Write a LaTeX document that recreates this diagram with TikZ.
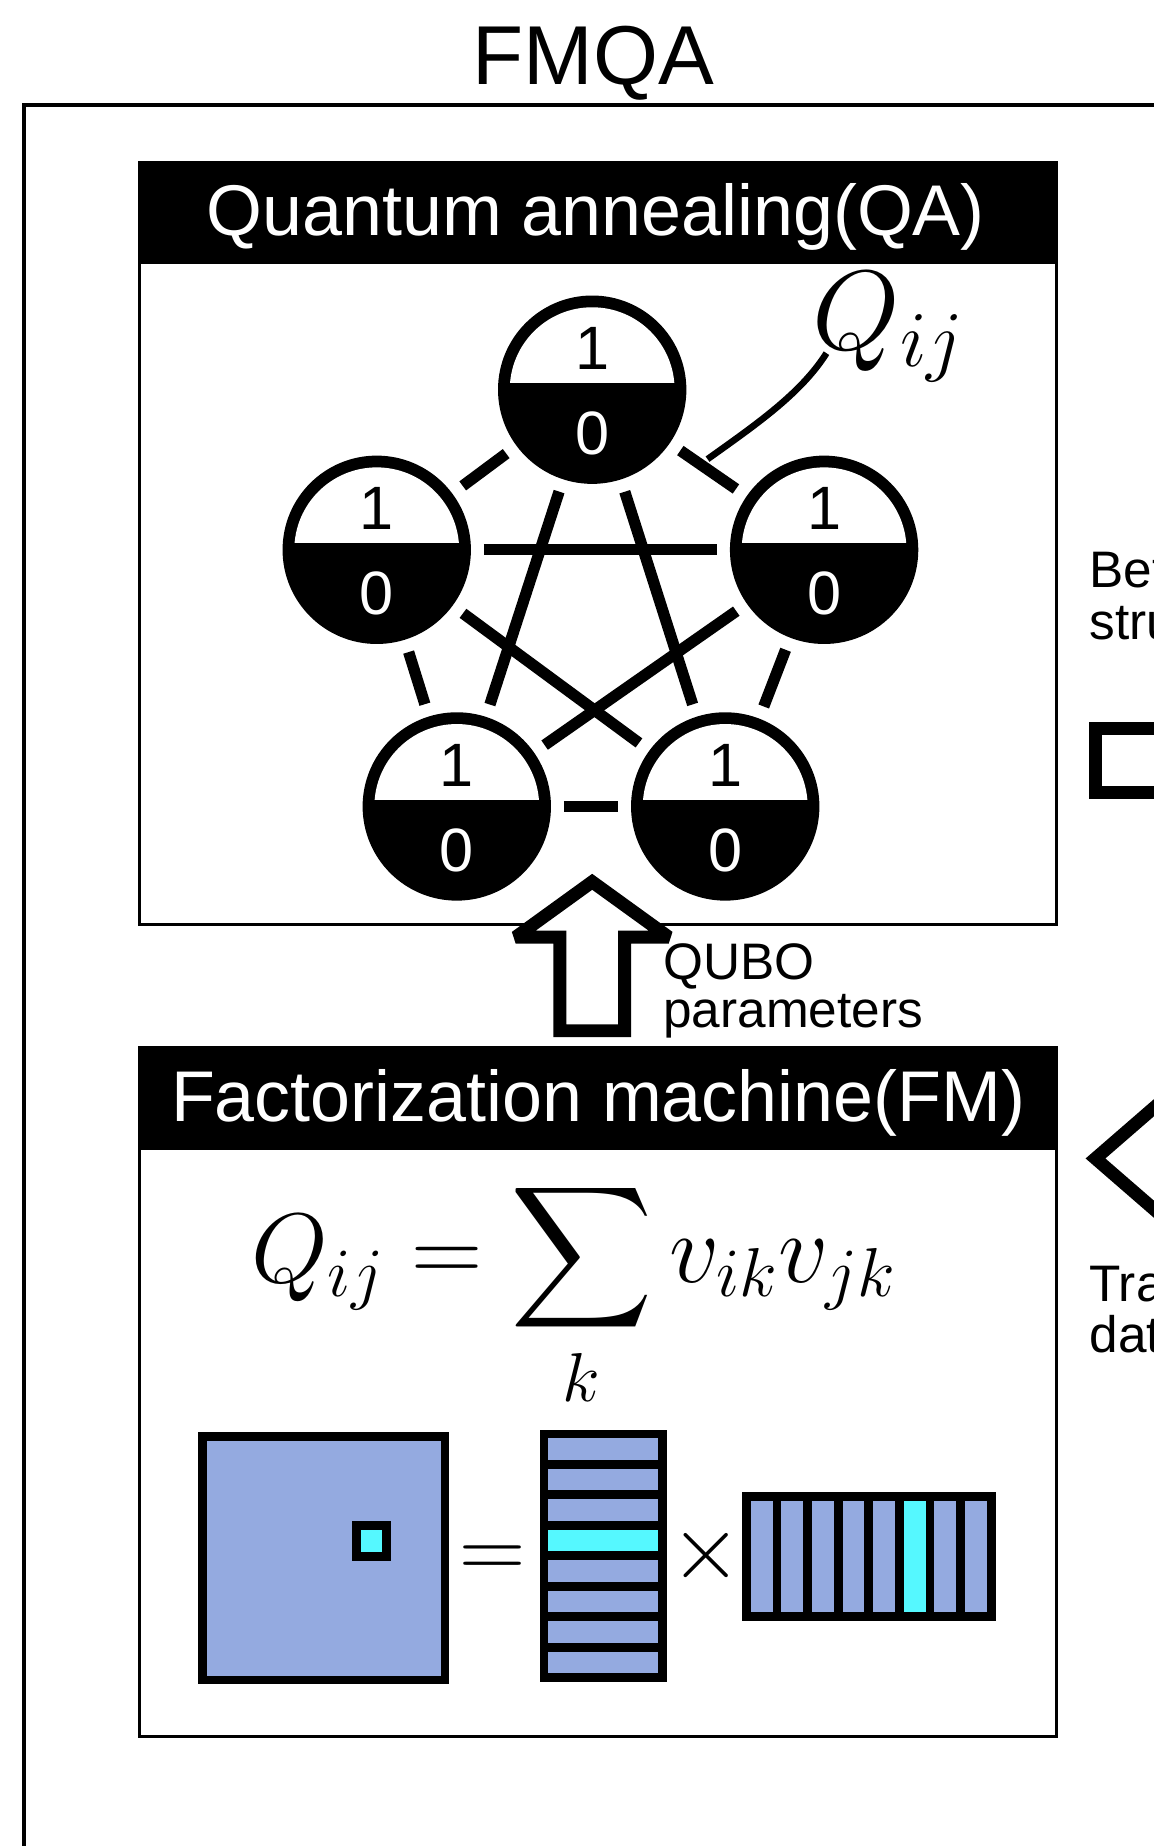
\RequirePackage{fix-cm}
\documentclass[tikz,border=0pt]{standalone}
\usepackage[no-math]{fontspec}
\setmainfont{Liberation Sans}
\DeclareFontShape{OMX}{cmex}{m}{n}{<->cmex10}{}
\usetikzlibrary{calc}
\definecolor{matblue}{RGB}{148,170,224}
\definecolor{selcyan}{RGB}{85,248,255}
\tikzset{
	titletext/.style={font=\fontsize{35.5pt}{40pt}\selectfont, inner sep=0},
	headtext/.style={text=white, font=\fontsize{30.5pt}{33pt}\selectfont, inner sep=0},
	sidetext/.style={font=\fontsize{21.8pt}{24pt}\selectfont, inner sep=0, anchor=base west},
	mathlabel/.style={font=\fontsize{48pt}{54pt}\selectfont, inner sep=0},
	matheq/.style={font=\fontsize{42pt}{48pt}\selectfont, inner sep=0},
	mathop/.style={font=\fontsize{39pt}{44pt}\selectfont, inner sep=0, anchor=base},
	qbit/.style={circle, fill=black, minimum size=80pt, inner sep=0, outer sep=5.5pt},
	bittext/.style={font=\fontsize{26pt}{28pt}\selectfont, inner sep=0, anchor=base},
	coupler/.style={line width=4.8pt},
	panel/.style={line width=1.3pt},
	blockarrow/.style={line width=5.5pt, fill=white, miter limit=2},
	matcell/.style={line width=3.75pt, fill=matblue}
}
\begin{document}
\begin{tikzpicture}[x=0.5pt, y=-0.5pt]
	\useasboundingbox (0,0) rectangle (980,1568);
	\clip (0,0) rectangle (980,1568);

	%outer frame
	\draw[line width=1.6pt] (20.5,1600) -- (20.5,89.5) -- (1000,89.5);
	\node (fmqa) at (504,72) [titletext, anchor=base]{FMQA};

	%QA panel
	\fill (118,137.5) rectangle (898,224);
	\draw[panel] (118.5,138) rectangle (897.5,785);
	\node (qahead) at (506,200) [headtext, anchor=base]{Quantum annealing(QA)};

	\foreach \nm/\px/\py in {n1/503/331, n2/320/467, n3/700/467, n4/388/685, n5/616/685}{
		\node (\nm) at (\px,\py) [qbit]{};
		\begin{scope}
			\clip (\px-75,\py-75) rectangle (\px+75,\py-6);
			\fill[white] (\px,\py) circle [radius=35pt];
		\end{scope}
		\node (\nm-one) at (\px,\py-17) [bittext]{1};
		\node (\nm-zero) at (\px,\py+55) [bittext, text=white]{0};
	}

	\foreach \a/\b in {n1/n2, n1/n3, n1/n4, n1/n5, n2/n3, n2/n4, n2/n5, n3/n4, n3/n5, n4/n5}
		\draw[coupler] (\a) -- (\b);

	\node (qij) at (690,297) [mathlabel, anchor=base west]{$Q_{ij}$};
	\coordinate (qtip) at (601,390);
	\draw[line width=2.8pt] (qtip) .. controls (640,362) and (680,335) .. ($(qij.base west)+(12,3)$);

	%QUBO arrow
	\draw[blockarrow] (503,749) -- (568,796) -- (530.5,796) -- (530.5,875.5) -- (475.5,875.5) -- (475.5,796) -- (438,796) -- cycle;
	\node (qubo) at (563,832) [sidetext]{QUBO};
	\node (qubopar) at (563,873) [sidetext]{parameters};

	%FM panel
	\fill (118,889.5) rectangle (898,976.5);
	\draw[panel] (118.5,890) rectangle (897.5,1475);
	\node (fmhead) at (508,953) [headtext, anchor=base]{Factorization machine(FM)};
	\node (fmeq) at (213,1089) [matheq, anchor=base west]{$\displaystyle Q_{ij}=\sum_k v_{ik}v_{jk}$};

	%matrices
	\filldraw[matcell] (172,1220) rectangle (378,1427);
	\filldraw[matcell, line width=3.65pt, fill=selcyan] (302.7,1295.7) rectangle (328.3,1322.3);
	\node (eqsign) at (418,1341) [mathop]{$=$};
	\foreach \r in {0,...,7}
		\filldraw[matcell] (462,1218+\r*25.875) rectangle (563,1243.875+\r*25.875);
	\filldraw[matcell, fill=selcyan] (462,1295.625) rectangle (563,1321.5);
	\node (timessign) at (600,1341) [mathop]{$\times$};
	\foreach \c in {0,...,7}
		\filldraw[matcell] (634+\c*26,1271) rectangle (660+\c*26,1373);
	\filldraw[matcell, fill=selcyan] (764,1271) rectangle (790,1373);

	%right side
	\node (bet) at (925,499) [sidetext]{Bet};
	\node (stru) at (925,543.5) [sidetext]{stru};
	\draw[line width=5.65pt] (930.6,618.7) rectangle (1060,673);
	\draw[blockarrow] (930.5,984) -- (1010,915) -- (1010,955) -- (1100,955) -- (1100,1013) -- (1010,1013) -- (1010,1053) -- cycle;
	\node (tra) at (925,1105.5) [sidetext]{Tra};
	\node (dat) at (925,1149) [sidetext]{dat};
\end{tikzpicture}
\end{document}
